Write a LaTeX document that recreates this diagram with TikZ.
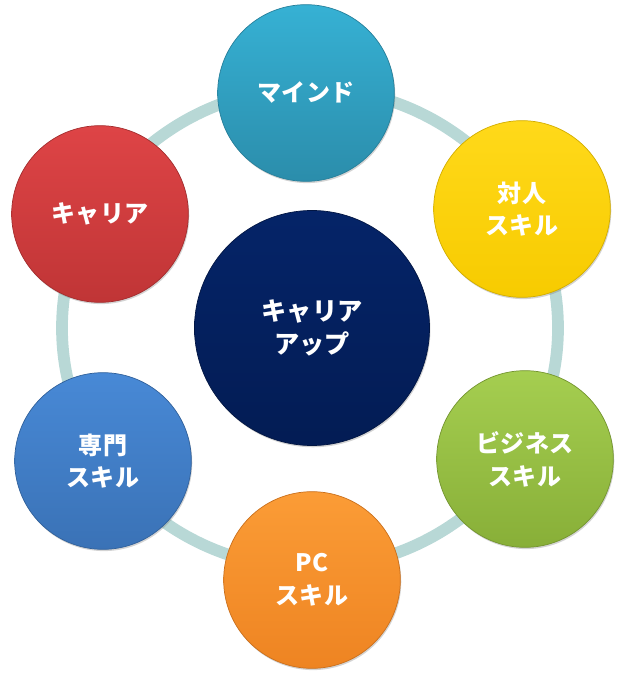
\documentclass[tikz,border=0pt]{standalone}
\usepackage{fontspec}
\newfontfamily\jpfont{Noto Sans CJK JP}
\usepackage{tikz}
\usetikzlibrary{shadows}

\definecolor{ringcol}{HTML}{B8D8D6}
\definecolor{mindtop}{HTML}{36B1D4}\definecolor{mindbot}{HTML}{2B8DAB}
\definecolor{yeltop}{HTML}{FFD91A}\definecolor{yelbot}{HTML}{F7CB00}
\definecolor{grntop}{HTML}{A5CE50}\definecolor{grnbot}{HTML}{88AF38}
\definecolor{orgtop}{HTML}{FB9C36}\definecolor{orgbot}{HTML}{EE8422}
\definecolor{blutop}{HTML}{4889D6}\definecolor{blubot}{HTML}{3A72B6}
\definecolor{redtop}{HTML}{DE4446}\definecolor{redbot}{HTML}{C03536}
\definecolor{navytop}{HTML}{052468}\definecolor{navybot}{HTML}{031C54}

\begin{document}
\begin{tikzpicture}[x=0.03cm, y=-0.03cm,
  ball/.style={circle, minimum size=5.3cm, inner sep=0pt, align=center,
    text=white, font=\jpfont\bfseries\fontsize{20.5}{28}\selectfont,
    drop shadow={opacity=0.35, shadow xshift=0.8pt, shadow yshift=-1.5pt}},
  bigball/.style={ball, minimum size=7.05cm,
    font=\jpfont\bfseries\fontsize{21.5}{28}\selectfont}]
  \useasboundingbox (0,0) rectangle (620,674);
  % Anneau
  \draw[ringcol, line width=10pt] (310,328) ellipse [x radius=248, y radius=240];
  % Centre
  \node[bigball, top color=navytop, bottom color=navybot, draw=navybot!80!black, line width=0.6pt]
    (career up) at (312,328) {キャリア\\アップ};
  % Autour
  \node[ball, top color=mindtop, bottom color=mindbot, draw=mindbot!90!black, line width=0.6pt]
    (mind) at (306,93) {マインド};
  \node[ball, top color=yeltop, bottom color=yelbot, draw=yelbot!85!black, line width=0.6pt]
    (interpersonal) at (522,209) {対人\\スキル};
  \node[ball, top color=grntop, bottom color=grnbot, draw=grnbot!85!black, line width=0.6pt]
    (business) at (525,459) {ビジネス\\スキル};
  \node[ball, top color=orgtop, bottom color=orgbot, draw=orgbot!85!black, line width=0.6pt]
    (pc) at (312,580) {PC\\スキル};
  \node[ball, top color=blutop, bottom color=blubot, draw=blubot!85!black, line width=0.6pt]
    (expert) at (103,461) {専門\\スキル};
  \node[ball, top color=redtop, bottom color=redbot, draw=redbot!85!black, line width=0.6pt]
    (career) at (100,214) {キャリア};
\end{tikzpicture}
\end{document}
